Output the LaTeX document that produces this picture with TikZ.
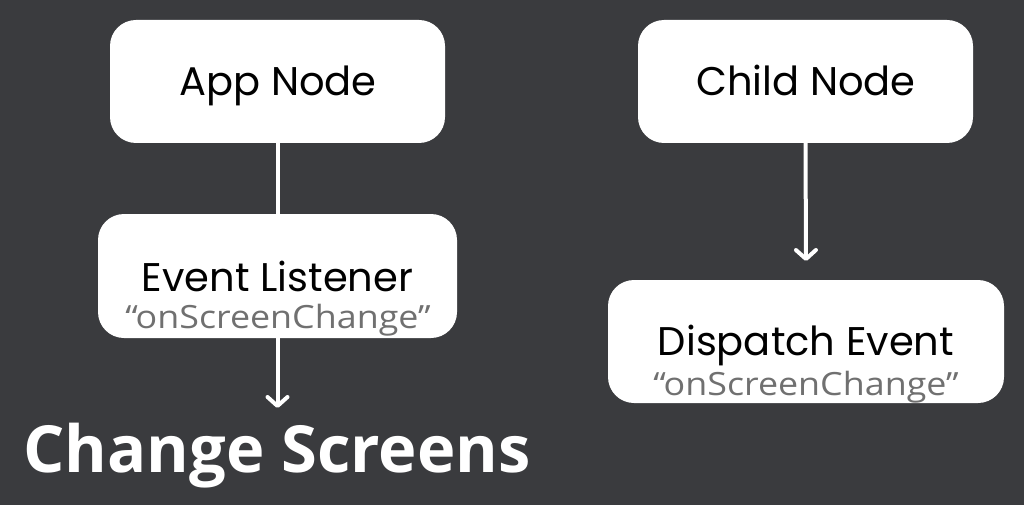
\documentclass[tikz,border=0pt]{standalone}
\usepackage{fontspec}
\setmainfont{Poppins}
\newfontfamily\plexfont{Open Sans}
\newfontfamily\subFont[FakeStretch=1.12]{Open Sans}
\usetikzlibrary{arrows.meta}
\definecolor{bg}{HTML}{3A3B3E}
\definecolor{subgrey}{HTML}{707070}
\begin{document}
\begin{tikzpicture}[x=1pt,y=-1pt,
  box/.style={fill=white, draw=none, rounded corners=26pt, inner sep=0pt},
  title/.style={anchor=base, inner sep=0pt, text=black, font=\fontsize{40}{40}\selectfont},
  subtitle/.style={anchor=base, inner sep=0pt, text=subgrey, text height=24pt, font=\subFont\fontsize{32}{32}\selectfont},
  conn/.style={draw=white, line width=4pt},
  tip/.style={-{Straight Barb[length=9pt,width=20pt,line cap=round,line join=round]}}
]
\fill[bg] (0,0) rectangle (1024,505);
\useasboundingbox (0,0) rectangle (1024,505);

% boxes
\node[box, minimum width=335pt, minimum height=123pt] (app) at (277.5,81.5) {};
\node[box, minimum width=335pt, minimum height=123pt] (child) at (805.5,81.5) {};
\node[box, minimum width=359pt, minimum height=124pt] (evt) at (277.5,276) {};
\node[box, minimum width=396pt, minimum height=123pt] (disp) at (806,341.5) {};

% texts
\node[title] (appT) at (278,96) {App Node};
\node[title] (childT) at (806,96) {Child Node};
\node[title] (evtT) at (277.5,291) {Event Listener};
\node[subtitle] (evtS) at (278,328) {“onScreenChange”};
\node[title] (dispT) at (806,355) {Dispatch Event};
\node[subtitle] (dispS) at (806,395) {“onScreenChange”};
\node[anchor=base west, inner sep=0pt, text=white, font=\plexfont\bfseries\fontsize{65}{65}\selectfont] (cs) at (23,472) {Change Screens};

% connectors
\coordinate (csTip) at (277.5,408);
\coordinate (dispTip) at (806,261);
\draw[conn] (app.south) -- (evt.north);
\draw[conn, tip] (evt.south) -- (csTip);
\draw[conn, tip] (child.south) -- (dispTip);
\end{tikzpicture}
\end{document}
